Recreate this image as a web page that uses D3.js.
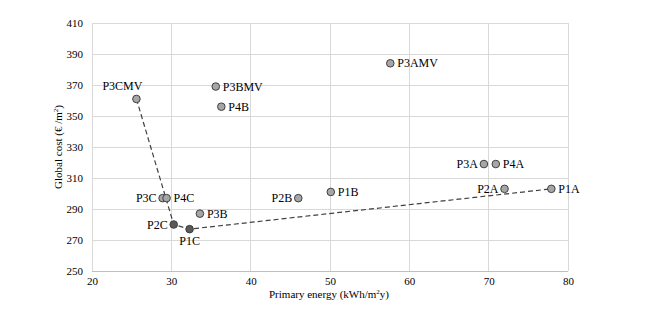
<!DOCTYPE html>
<html><head><meta charset="utf-8">
<script src="https://cdn.jsdelivr.net/npm/d3@7"></script>
<style>
body{margin:0;background:#fff;}
svg text{font-family:"Liberation Serif","DejaVu Serif","Times New Roman",serif !important;fill:#000;}
</style></head>
<body><svg id="c" width="655" height="330" font-family="Liberation Serif, serif"></svg>
<script>
const names  = ["P3CMV","P3BMV","P4B","P3AMV","P3A","P4A","P2A","P1A","P1B","P2B","P3C","P4C","P3B","P2C","P1C"];
const energy = [25.6, 35.6, 36.3, 57.6, 69.4, 70.9, 72.0, 77.9, 50.1, 46.0, 28.9, 29.4, 33.6, 30.3, 32.3];
const cost   = [361, 369, 356, 384, 319, 319, 303, 303, 301, 297, 297, 297, 287, 280, 277];
const labelSide = ["above","right","right","right","left","right","left","right","right","left","left","right","right","left","below"];
const highlighted = ["P2C","P1C"];
const front = ["P3CMV","P2C","P1C","P1A"];
const xTicks = [20,30,40,50,60,70,80];
const yTicks = [250,270,290,310,330,350,370,390,410];

const FONT = '"Liberation Serif", "DejaVu Serif", serif';
const svg = d3.select("#c");
const m = {l:92, r:568, t:23, b:271};
const x = d3.scaleLinear().domain([20,80]).range([m.l,m.r]);
const y = d3.scaleLinear().domain([250,410]).range([m.b,m.t]);

// gridlines
svg.append("g").selectAll("line").data(xTicks).join("line")
  .attr("x1",d=>x(d)).attr("x2",d=>x(d)).attr("y1",m.t).attr("y2",m.b)
  .attr("stroke","#d9d9d9").attr("stroke-width",1).attr("shape-rendering","crispEdges");
svg.append("g").selectAll("line").data(yTicks).join("line")
  .attr("x1",m.l).attr("x2",m.r).attr("y1",d=>y(d)).attr("y2",d=>y(d))
  .attr("stroke",d=>d===250?"#bfbfbf":"#d9d9d9").attr("stroke-width",1).attr("shape-rendering","crispEdges");

// axes labels via d3 axes
const xa = svg.append("g").attr("transform",`translate(0,${m.b})`)
  .call(d3.axisBottom(x).tickValues(xTicks).tickSize(0).tickPadding(6));
const ya = svg.append("g").attr("transform",`translate(${m.l},0)`)
  .call(d3.axisLeft(y).tickValues(yTicks).tickSize(0).tickPadding(9));
[xa,ya].forEach(a=>{a.attr("font-family",FONT).attr("font-size",11);
  a.select(".domain").remove();
  a.selectAll("text").attr("font-family",FONT).attr("font-size",11).attr("fill","#000");});

svg.append("text").attr("x",329).attr("y",298).attr("text-anchor","middle")
  .attr("font-family",FONT).attr("font-size",11)
  .html('Primary energy (kWh/m<tspan dy="-4" font-size="7">2</tspan><tspan dy="4">y)</tspan>');
svg.append("text").attr("transform",`translate(62,${(m.t+m.b)/2}) rotate(-90)`).attr("text-anchor","middle")
  .attr("font-family",FONT).attr("font-size",11)
  .html('Global cost (€ /m<tspan dy="-4" font-size="7">2</tspan><tspan dy="4">)</tspan>');

const pts = names.map((n,i)=>({n, e:energy[i], c:cost[i], side:labelSide[i]}));
const byName = Object.fromEntries(pts.map(p=>[p.n,p]));

// dashed front line
svg.append("path").datum(front.map(n=>byName[n]))
  .attr("d", d3.line().x(d=>x(d.e)).y(d=>y(d.c)))
  .attr("fill","none").attr("stroke","#404040").attr("stroke-width",1.2).attr("stroke-dasharray","5,3");

// markers
svg.append("g").selectAll("circle").data(pts).join("circle")
  .attr("cx",d=>x(d.e)).attr("cy",d=>y(d.c)).attr("r",3.8)
  .attr("fill",d=>highlighted.includes(d.n)?"#595959":"#a6a6a6")
  .attr("stroke","#404040").attr("stroke-width",1);

// labels
svg.append("g").selectAll("text").data(pts).join("text")
  .attr("font-family",FONT).attr("font-size",12)
  .attr("x",d=>{const px=x(d.e); return d.side==="right"?px+7:d.side==="left"?px-6:d.side==="above"?px-14:px;})
  .attr("y",d=>{const py=y(d.c); return d.side==="above"?py-9:d.side==="below"?py+16:py+4;})
  .attr("text-anchor",d=>d.side==="right"?"start":d.side==="left"?"end":"middle")
  .text(d=>d.n);
</script></body></html>
